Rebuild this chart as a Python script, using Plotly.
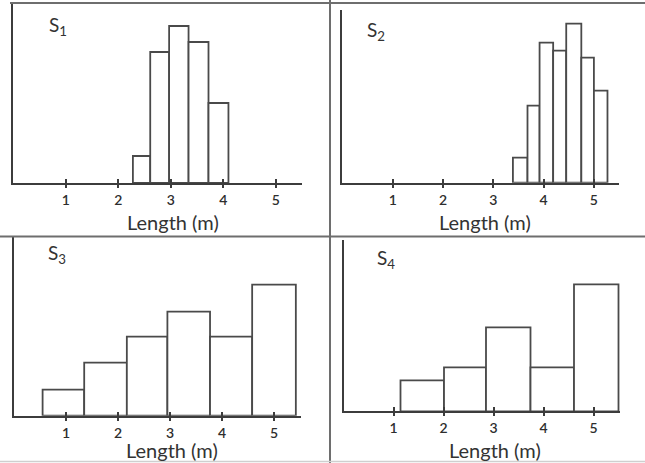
import plotly.graph_objects as go

W, H = 645, 463

# ---- data ----
s1_edges = [2.28, 2.61, 2.97, 3.34, 3.72, 4.10]
s1_heights = [27, 131, 157, 141, 80]
s2_edges = [3.39, 3.68, 3.92, 4.19, 4.45, 4.75, 5.00, 5.27]
s2_heights = [25, 77, 140, 132, 159, 125, 92]
s3_edges = [0.55, 1.35, 2.17, 2.95, 3.77, 4.58, 5.42]
s3_heights = [26, 53, 79, 104, 79, 131]
s4_edges = [1.14, 2.01, 2.85, 3.74, 4.61, 5.50]
s4_heights = [31, 44, 84, 44, 127]
tick_vals = [1, 2, 3, 4, 5]
tick_text = ["1", "2", "3", "4", "5"]
panel_names = ["S<sub>1</sub>", "S<sub>2</sub>", "S<sub>3</sub>", "S<sub>4</sub>"]
x_title = "Length (m)"

def px(x):
    return x / W

def py(y):
    return 1 - y / H

# panel geometry in pixels: x-axis left px, px per unit, x max, baseline px, top px
panels = [
    dict(edges=s1_edges, h=s1_heights, x0=13.2, ppu=52.5, xmax=5.5, base=183.0, top=3.0),
    dict(edges=s2_edges, h=s2_heights, x0=342.4, ppu=50.3, xmax=5.5, base=182.7, top=10.0),
    dict(edges=s3_edges, h=s3_heights, x0=14.0, ppu=52.0, xmax=5.52, base=415.7, top=237.0),
    dict(edges=s4_edges, h=s4_heights, x0=343.5, ppu=50.0, xmax=5.53, base=411.3, top=239.7),
]
name_pos = [(58, 26), (376, 31), (57, 254), (386, 259)]
title_pos = [(173, 222), (485, 222), (172, 450), (495, 450)]

FONT = "Lato, Carlito, 'Open Sans', sans-serif"
LINE = "#3c3c3c"
BAR_LINE = "#4a4a4a"

fig = go.Figure()
layout = dict(
    width=W, height=H, margin=dict(l=0, r=0, t=0, b=0),
    paper_bgcolor="white", plot_bgcolor="rgba(0,0,0,0)",
    showlegend=False, font=dict(family=FONT, color="#333"),
)

annotations = []
shapes = []
for i, p in enumerate(panels):
    n = i + 1
    xa = "x" if n == 1 else f"x{n}"
    ya = "y" if n == 1 else f"y{n}"
    edges = p["edges"]
    centers = [(edges[k] + edges[k + 1]) / 2 for k in range(len(edges) - 1)]
    widths = [edges[k + 1] - edges[k] for k in range(len(edges) - 1)]
    fig.add_trace(go.Bar(
        x=centers, y=p["h"], width=widths, xaxis=xa, yaxis=ya,
        marker=dict(color="white", line=dict(color=BAR_LINE, width=1.8)),
        hoverinfo="skip",
    ))
    xdom = [px(p["x0"]), px(p["x0"] + p["ppu"] * p["xmax"])]
    ydom = [py(p["base"]), py(p["top"])]
    ymax = p["base"] - p["top"]
    layout["xaxis" if n == 1 else f"xaxis{n}"] = dict(
        domain=xdom, range=[0, p["xmax"]], anchor=ya,
        showline=True, linecolor=LINE, linewidth=2, mirror=False,
        showgrid=False, zeroline=False,
        tickmode="array", tickvals=tick_vals, ticktext=tick_text,
        ticks="outside", ticklen=3, tickwidth=2, tickcolor=LINE,
        tickfont=dict(size=14, color="#2e2e2e", family=FONT, weight=600),
    )
    layout["yaxis" if n == 1 else f"yaxis{n}"] = dict(
        domain=ydom, range=[0, ymax], anchor=xa,
        showline=True, linecolor=LINE, linewidth=2, mirror=False,
        showgrid=False, zeroline=False, showticklabels=False, ticks="",
    )
    # overlay axis for inward half of the tick crosses
    m = n + 4
    layout[f"xaxis{m}"] = dict(
        domain=xdom, range=[0, p["xmax"]], anchor=ya, overlaying=xa,
        showline=False, showgrid=False, zeroline=False,
        tickmode="array", tickvals=tick_vals, showticklabels=False,
        ticks="inside", ticklen=4, tickwidth=2, tickcolor=LINE,
    )
    fig.add_trace(go.Scatter(x=[None], y=[None], xaxis=f"x{m}", yaxis=ya,
                             hoverinfo="skip"))
    nx, ny = name_pos[i]
    annotations.append(dict(
        x=px(nx), y=py(ny), xref="paper", yref="paper", text=panel_names[i],
        showarrow=False, font=dict(size=19, color="#333", family=FONT),
        xanchor="center", yanchor="middle",
    ))
    tx, ty = title_pos[i]
    annotations.append(dict(
        x=px(tx), y=py(ty), xref="paper", yref="paper", text=x_title,
        showarrow=False, font=dict(size=20, color="#333", family=FONT),
        xanchor="center", yanchor="middle",
    ))

FRAME = "#6e6e6e"
shapes += [
    dict(type="line", xref="paper", yref="paper", x0=px(10), x1=1, y0=py(3), y1=py(3),
         line=dict(color=FRAME, width=2)),
    dict(type="line", xref="paper", yref="paper", x0=px(330), x1=px(330), y0=0, y1=1,
         line=dict(color=FRAME, width=2)),
    dict(type="line", xref="paper", yref="paper", x0=0, x1=1, y0=py(236.5), y1=py(236.5),
         line=dict(color=FRAME, width=2)),
    dict(type="line", xref="paper", yref="paper", x0=0, x1=1, y0=py(461.5), y1=py(461.5),
         line=dict(color="#cfcfcf", width=1.5)),
]

layout["annotations"] = annotations
layout["shapes"] = shapes
fig.update_layout(**layout)
fig.write_html(
    "out.html",
    config={"displayModeBar": False},
    post_script="document.body.style.margin='0px';document.body.style.padding='0px';",
)
